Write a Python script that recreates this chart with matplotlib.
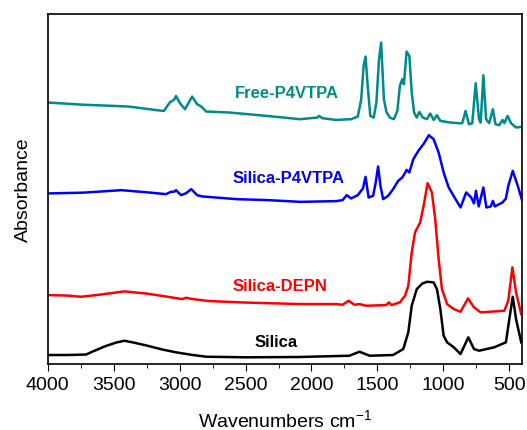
import matplotlib.pyplot as plt
from matplotlib.ticker import MultipleLocator

plt.rcParams['font.family'] = ['Liberation Sans', 'DejaVu Sans']
plt.rcParams['mathtext.fontset'] = 'custom'
plt.rcParams['mathtext.rm'] = 'Liberation Sans'
plt.rcParams['mathtext.it'] = 'Liberation Sans:italic'

# spectra (wavenumber, offset absorbance in arbitrary units)
silica_wn = [4000, 3850, 3709, 3650, 3560, 3480, 3418, 3350, 3250, 3130, 3027, 2900, 2798,
             2500, 2100, 1713, 1636, 1559, 1381, 1304, 1266, 1240, 1202, 1160,
             1125, 1074, 1049, 1023, 998, 972, 921, 870, 811, 768, 730, 615, 526, 500, 474,
             449, 410]
silica_ab = [9, 9, 9.5, 13, 18, 21.5, 23.3, 21.5, 18.5, 14.5, 11.7, 9, 7.3,
             6.7, 7, 8.3, 12.3, 8.3, 9, 15, 31.7, 58.3, 75, 80.5,
             82.3, 81.7, 75, 55, 28.3, 21.7, 16.7, 10, 26.7, 15, 13.3, 16.7, 21.7, 45, 67.3,
             45, 21.7]

depn_wn = [4000, 3850, 3747, 3600, 3418, 3250, 3100, 2981, 2950, 2900, 2775, 2500, 2085,
           1815, 1764, 1719, 1674, 1636,
           1585, 1432, 1414, 1393, 1330, 1291, 1266, 1240, 1215, 1176, 1145, 1120, 1087,
           1062, 1036, 1011, 972, 921, 870, 813, 768, 717, 538, 508, 477, 449, 410]
depn_ab = [69, 68.5, 67.3, 69.5, 72.7, 70.5, 67.5, 65, 66.3, 65, 63, 61.5, 60,
           60, 59.3, 63.3, 59.3, 60,
           58.3, 59, 61.7, 59, 61.7, 68.3, 78.3, 111.7, 131.7, 141.7, 161.7, 181, 171.7,
           145, 105, 75, 60, 55, 52.3, 65.7, 56.7, 51.7, 53.3, 63.3, 96.7, 71.7, 50]

p4_wn = [4000, 3729, 3441, 3219, 3104, 3066, 3040, 3027, 2989, 2950, 2912, 2867, 2828,
         2568, 2325, 2085, 1815, 1764, 1733, 1700, 1649, 1610, 1590, 1567, 1533, 1513, 1495,
         1477, 1457, 1419, 1381, 1343, 1312, 1296, 1279, 1258, 1228, 1190, 1146, 1110,
         1074, 1036, 998, 960, 908, 870, 827, 789, 768, 753, 732, 697, 674, 640, 625,
         610, 551, 526, 508, 474, 436, 406]
p4_ab = [170.7, 171.5, 174, 171.5, 170, 172.3, 172.5, 174, 169, 171, 175, 169, 167.7,
         165, 164, 162.3, 163, 164, 169, 165.7, 169, 175.7, 187.3, 166.7, 168.3, 181.7, 197.7,
         178.3, 165, 168.3, 175, 183.3, 186.7, 190, 194.3, 191.7, 205, 213.3, 221, 229,
         225, 211.7, 191.7, 176.7, 165, 156.7, 171.7, 166.7, 160.7, 173.3, 157.7, 176.7,
         156.7, 157.7, 163.3, 157.7, 161.7, 165.7, 178.3, 193.3, 178.3, 165]

free_wn = [4000, 3729, 3387, 3168, 3119, 3073, 3043, 3027, 2997, 2959, 2905, 2867, 2836,
           2798, 2621, 2338, 2085, 1955, 1943, 1917, 1815, 1700, 1649, 1623, 1605, 1590, 1574,
           1554, 1528, 1508, 1488, 1472, 1451, 1432, 1406, 1375, 1349, 1330, 1312, 1299,
           1279, 1258, 1240, 1222, 1202, 1182, 1156, 1125, 1100, 1074, 1049, 1023, 947,
           883, 857, 832, 806, 781, 755, 730, 717, 697, 676, 653, 625, 605, 577, 551, 538,
           513, 487, 449, 410]
free_ab = [261.7, 259.5, 257.7, 254, 253.3, 262, 264.3, 268.3, 261, 255, 267.7, 260, 257.7,
           252.7, 251.7, 248.3, 245, 246.7, 248.3, 246, 244.3, 245, 247.7, 265, 298.3, 307.7, 278.3,
           248.3, 246.7, 261.7, 305, 321.7, 265, 252.3, 246.7, 245, 253.3, 278.3, 285, 280,
           312.7, 308.3, 271.7, 251.7, 246.7, 252.3, 246.7, 245, 250.7, 244.3, 249, 243.3, 241.7,
           241, 241, 253.3, 240, 241, 281, 245, 241.7, 289, 245, 241, 255, 240, 239, 244.3, 241,
           248.3, 241, 236.7, 237.3]

labels = ['Free-P4VTPA', 'Silica-P4VTPA', 'Silica-DEPN', 'Silica']
colors = ['#008B8B', '#0000FF', '#FF0000', '#000000']
label_pos = [(2185, 272), (2172, 187), (2236, 79), (2269, 23)]

fig = plt.figure(figsize=(5.27, 4.31), dpi=100)
ax = fig.add_axes([0.0905, 0.1531, 0.8995, 0.8114])

series = [(free_wn, free_ab), (p4_wn, p4_ab), (depn_wn, depn_ab), (silica_wn, silica_ab)]
for (wn, ab), lab, c, (tx, ty) in zip(series, labels, colors, label_pos):
    ax.plot(wn, ab, color=c, lw=1.8, solid_joinstyle='round')
    ax.text(tx, ty, lab, color=c, fontsize=12, fontweight='bold', ha='center', va='center')

ax.set_xlim(4000, 406)
ax.set_ylim(0, 350)
ax.xaxis.set_major_locator(MultipleLocator(500))
ax.xaxis.set_minor_locator(MultipleLocator(250))
ax.tick_params(axis='x', which='major', direction='out', length=5, labelsize=14)
ax.tick_params(axis='x', which='minor', direction='out', length=3)
ax.set_yticks([])
for s in ax.spines.values():
    s.set_linewidth(1.2)
ax.set_xlabel('Wavenumbers cm$^{-1}$', fontsize=14, labelpad=11)
ax.set_ylabel('Absorbance', fontsize=14, labelpad=11)

fig.savefig('out.png', dpi=100)
